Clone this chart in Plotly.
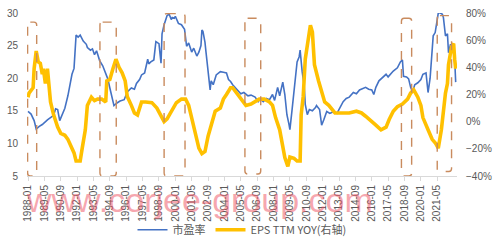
import plotly.graph_objects as go
import pandas as pd

# ---- data ----
pe_dates = ["1988-01","1988-04","1988-07","1988-09","1988-12","1989-03","1989-08","1989-11","1990-02","1990-04",
"1990-06","1990-08","1990-11","1991-01","1991-04","1991-08","1991-10","1991-12","1992-02","1992-04",
"1992-07","1992-10","1992-11","1993-02","1993-04","1993-06","1993-08","1993-11","1994-02","1994-04",
"1994-07","1994-09","1994-11","1995-01","1995-04","1995-07","1995-11","1996-02","1996-06","1996-09",
"1996-11","1997-02","1997-04","1997-07","1997-10","1997-11","1998-01","1998-04","1998-06","1998-09",
"1998-11","1998-12","1999-02","1999-04","1999-05","1999-07","1999-09","1999-10","1999-12","2000-01",
"2000-04","2000-07","2000-10","2000-12","2001-02","2001-05","2001-07","2001-10","2001-12","2002-02",
"2002-03","2002-04","2002-06","2002-07","2002-09","2002-11","2002-12","2003-02","2003-05","2003-09",
"2003-12","2004-03","2004-05","2004-07","2004-09","2004-12","2005-02","2005-05","2005-08","2005-12",
"2006-03","2006-07","2006-10","2006-12","2007-03","2007-06","2007-09","2007-12","2008-02","2008-05",
"2008-07","2008-09","2008-10","2008-12","2009-01","2009-02","2009-04","2009-05","2009-07","2009-09",
"2009-12","2010-02","2010-03","2010-05","2010-07","2010-08","2010-10","2010-12","2011-03","2011-06",
"2011-07","2011-10","2011-12","2012-02","2012-05","2012-08","2012-12","2013-03","2013-06","2013-09",
"2013-12","2014-03","2014-07","2014-10","2015-01","2015-04","2015-07","2015-10","2016-01","2016-03",
"2016-05","2016-08","2016-12","2017-03","2017-05","2017-08","2017-10","2018-02","2018-05","2018-07",
"2018-08","2018-11","2019-01","2019-03","2019-05","2019-07","2019-10","2020-01","2020-03","2020-06",
"2020-08","2020-10","2020-12","2021-01","2021-03","2021-05","2021-06","2021-08","2021-10","2021-11",
"2022-01","2022-03","2022-04","2022-06","2022-08","2022-10","2022-11"]
pe_values = [14.9,14.5,13.5,12.2,12.6,12.9,13.6,14.0,14.3,15.3,
15.2,13.5,14.5,15.4,17.3,20.6,21.5,26.6,26.3,26.6,
25.7,25.2,24.7,24.3,24.5,23.6,24.2,22.7,21.9,21.0,
19.9,18.5,17.2,15.8,16.2,16.5,16.7,17.9,18.5,18.3,
19.2,19.8,20.5,20.8,22.9,22.2,22.5,22.8,25.6,25.3,
22.3,26.8,28.2,29.1,29.6,29.8,29.0,29.3,29.2,29.5,
28.4,28.2,27.5,24.9,25.4,24.0,24.6,23.4,24.0,25.0,
27.4,27.2,25.5,24.0,21.0,18.2,19.6,19.0,20.5,21.0,
20.9,20.8,19.8,19.5,19.0,18.5,18.0,17.6,17.8,17.3,
17.4,17.1,16.4,16.8,16.4,16.9,16.7,17.5,16.6,18.6,
17.3,18.8,19.4,17.5,15.8,14.4,13.0,12.1,15.0,17.8,
22.5,23.3,24.3,21.0,18.8,16.0,14.4,15.2,15.0,15.5,
15.8,15.2,12.8,13.6,14.9,14.6,14.9,14.6,15.4,16.4,
16.9,17.1,17.8,17.6,18.2,18.4,18.6,18.3,18.2,17.5,
18.6,19.6,20.1,20.6,20.2,20.8,21.1,21.6,22.5,22.8,
20.3,20.2,19.9,18.6,17.9,19.0,19.3,19.8,20.6,20.8,
17.8,20.0,23.9,26.5,27.0,29.6,30.0,30.0,29.8,29.3,
26.5,26.8,23.9,25.2,24.6,23.0,19.4]

eps_dates = ["1988-01","1988-02","1988-06","1988-07","1988-09","1988-11","1989-01","1989-03","1989-04","1989-06",
"1989-08","1989-09","1989-11","1990-02","1990-06","1990-09","1991-01","1991-04","1991-08","1991-10",
"1991-12","1992-04","1992-06","1992-09","1992-11","1993-03","1993-06","1993-09","1994-01","1994-05",
"1994-06","1994-09","1994-12","1995-03","1995-06","1995-09","1995-12","1996-02","1996-06","1996-09",
"1996-12","1997-04","1997-08","1998-02","1998-07","1998-12","1999-02","1999-05","1999-09","1999-12",
"2000-02","2000-07","2000-11","2001-02","2001-05","2001-09","2001-12","2002-03","2002-06","2002-09",
"2002-12","2003-04","2003-09","2003-12","2004-03","2004-07","2004-09","2004-12","2005-04","2005-07",
"2005-10","2006-03","2006-07","2006-11","2007-04","2007-09","2007-12","2008-03","2008-07","2008-10",
"2008-12","2009-03","2009-05","2009-09","2009-12","2010-03","2010-04","2010-06","2010-08","2010-12",
"2011-01","2011-03","2011-05","2011-09","2011-12","2012-03","2012-07","2012-10","2013-01","2013-05",
"2013-10","2014-03","2014-10","2015-03","2015-07","2015-12","2016-05","2016-10","2017-03","2017-06",
"2017-10","2018-02","2018-07","2018-12","2019-03","2019-06","2019-10","2020-01","2020-03","2020-08",
"2020-12","2021-03","2021-06","2021-09","2021-11","2022-01","2022-03","2022-04","2022-07","2022-09",
"2022-10","2022-11"]
eps_values = [18,21,25,39,52,44,43,35,39,28,
39,30,14.5,5,-4,-8.6,-10,-13,-19,-23,
-29,-29,-19.5,-6,12,18,15.5,16.6,16.6,14.5,
30,31,39,46,40,36,30,18.6,12,6.4,
5,14.5,14.5,14,10,3,0,2,7.7,12,
14,16.6,16.6,12,3,-8.6,-19.5,-23.6,-22,-10.7,
-2,7.7,10,16.6,20,25,25,22,18.6,15,
12,13,15,16.6,16.6,14.5,12,3,-6,-17.5,
-26.4,-33,-26,-27,-29,-29,5,18.6,46,66,
71,66,42,30,21,14.5,12,9,6.4,6.4,
6.4,6.4,7.7,6.4,4,1,-2.5,-6,-4,1.6,
7.7,11,13,16.6,21,23.4,18,12,3,-6,
-13,-15.5,-19.5,-6,10,21,28,42,55,57.5,
46,39]

tick_dates = ["1988-01","1989-05","1990-09","1992-01","1993-05","1994-09","1996-01","1997-05","1998-09",
"2000-01","2001-05","2002-09","2004-01","2005-05","2006-09","2008-01","2009-05","2010-09","2012-01",
"2013-05","2014-09","2016-01","2017-05","2018-09","2020-01","2021-05"]

# highlighted periods (start, end, top on left axis, bottom on left axis)
box_start = ["1987-12-20","1993-11-10","1999-02-01","2005-09-01","2018-06-01","2021-05-01"]
box_end   = ["1988-09-15","1995-03-10","2000-10-15","2006-12-15","2019-04-01","2022-07-01"]
box_top   = [28.6, 28.6, 29.9, 29.2, 29.2, 29.6]
box_bot   = [5.0, 5.0, 5.0, 5.3, 5.0, 5.7]

series_names = ["市盈率", "EPS TTM YOY(右轴)"]
watermark = "www.corjee-group.com"

fig = go.Figure()
fig.add_trace(go.Scatter(x=[d + "-01" for d in pe_dates], y=pe_values, mode="lines",
                         name=series_names[0], line=dict(color="#4472C4", width=1.6), yaxis="y"))
fig.add_trace(go.Scatter(x=[d + "-01" for d in eps_dates], y=eps_values, mode="lines",
                         name=series_names[1], line=dict(color="#FFC000", width=3.6), yaxis="y2"))


def rounded_box(s, e, b, t, rx_days=80, ry=0.45):
    s = pd.Timestamp(s); e = pd.Timestamp(e)
    rx = pd.Timedelta(days=rx_days)
    f = lambda d: d.strftime("%Y-%m-%d")
    return (f"M {f(s + rx)},{t} L {f(e - rx)},{t} Q {f(e)},{t} {f(e)},{t - ry} "
            f"L {f(e)},{b + ry} Q {f(e)},{b} {f(e - rx)},{b} "
            f"L {f(s + rx)},{b} Q {f(s)},{b} {f(s)},{b + ry} "
            f"L {f(s)},{t - ry} Q {f(s)},{t} {f(s + rx)},{t} Z")


for s, e, t, b in zip(box_start, box_end, box_top, box_bot):
    fig.add_shape(type="path", xref="x", yref="y", path=rounded_box(s, e, b, t),
                  line=dict(color="#C98B5E", width=1.4, dash="dash"), fillcolor="rgba(0,0,0,0)",
                  layer="above")

fig.add_annotation(text=watermark, xref="paper", yref="paper", x=0.40, y=-0.15,
                   showarrow=False, font=dict(family="Liberation Sans", size=34, color="rgba(238,80,95,0.5)"),
                   xanchor="center", yanchor="middle")

tick_font = dict(family="Liberation Sans", size=10, color="#595959")
fig.update_layout(
    width=499, height=251,
    margin=dict(l=26, r=37, t=7, b=68),
    paper_bgcolor="white", plot_bgcolor="white",
    showlegend=True,
    legend=dict(orientation="h", x=0.5, xanchor="center", y=-0.33, yanchor="middle",
                font=dict(family="Noto Sans CJK SC", size=11, color="#595959"),
                itemwidth=30, tracegroupgap=0, bgcolor="rgba(0,0,0,0)"),
    xaxis=dict(type="date", range=["1987-12-02", "2022-12-10"],
               tickvals=[d + "-01" for d in tick_dates], ticktext=tick_dates,
               tickangle=-90, tickfont=tick_font, showgrid=False,
               showline=True, linecolor="#D9D9D9", linewidth=1,
               ticks="outside", ticklen=4, tickcolor="#D9D9D9", zeroline=False),
    yaxis=dict(range=[5, 30], dtick=5, tickfont=tick_font, showgrid=False, zeroline=False,
               showline=False, ticks="outside", ticklen=6, tickcolor="rgba(0,0,0,0)"),
    yaxis2=dict(range=[-40, 80], dtick=20, ticksuffix="%", overlaying="y", side="right",
                tickfont=tick_font, showgrid=False, zeroline=False, showline=False,
                ticks="outside", ticklen=6, tickcolor="rgba(0,0,0,0)"),
)

fig.write_html("out.html")
